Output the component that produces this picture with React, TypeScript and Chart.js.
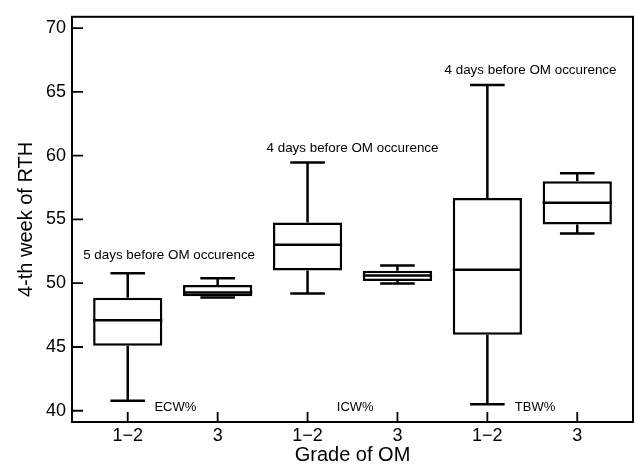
import React, { useEffect, useRef } from "react";
import { Chart, registerables } from "chart.js";

Chart.register(...registerables);

const categories = ["1−2", "3", "1−2", "3", "1−2", "3"];
const positions = [1, 2, 3, 4, 5, 6];
const mins = [40.78, 48.88, 49.19, 49.97, 40.52, 53.9];
const q1s = [45.1, 48.98, 51.0, 50.17, 45.95, 54.6];
const medians = [47.1, 49.27, 53.02, 50.61, 51.06, 56.31];
const q3s = [48.85, 49.86, 54.75, 50.98, 56.67, 57.99];
const maxs = [50.77, 50.38, 59.46, 51.39, 65.54, 58.61];

const noteTexts = [
  "5 days before OM occurence",
  "4 days before OM occurence",
  "4 days before OM occurence",
];
const noteX = [1.46, 3.5, 5.48];
const noteY = [52.17, 60.55, 66.7];

const groupLabels = ["ECW%", "ICW%", "TBW%"];
const groupX = [1.53, 3.53, 5.53];
const groupY = [40.3, 40.3, 40.3];

const yTicks = [40, 45, 50, 55, 60, 65, 70];

const FONT = "Arial, 'Liberation Sans', Helvetica, sans-serif";

const boxPlugin = {
  id: "boxExtras",
  afterDatasetsDraw(chart: any) {
    const { ctx, chartArea, scales } = chart;
    const x = scales.x;
    const y = scales.y;
    const meta = chart.getDatasetMeta(0);
    ctx.save();
    ctx.strokeStyle = "#000";
    ctx.lineWidth = 2.5;
    ctx.lineCap = "butt";
    meta.data.forEach((bar: any, i: number) => {
      const cx = x.getPixelForValue(positions[i]);
      const w = bar.width;
      const capHalf = w * 0.25;
      const pMin = y.getPixelForValue(mins[i]);
      const pQ1 = y.getPixelForValue(q1s[i]);
      const pMed = y.getPixelForValue(medians[i]);
      const pQ3 = y.getPixelForValue(q3s[i]);
      const pMax = y.getPixelForValue(maxs[i]);
      ctx.beginPath();
      ctx.moveTo(cx, pQ3);
      ctx.lineTo(cx, pMax);
      ctx.moveTo(cx - capHalf, pMax);
      ctx.lineTo(cx + capHalf, pMax);
      ctx.moveTo(cx, pQ1);
      ctx.lineTo(cx, pMin);
      ctx.moveTo(cx - capHalf, pMin);
      ctx.lineTo(cx + capHalf, pMin);
      ctx.moveTo(cx - w / 2, pMed);
      ctx.lineTo(cx + w / 2, pMed);
      ctx.stroke();
    });

    ctx.lineWidth = 2;
    ctx.strokeRect(
      chartArea.left,
      chartArea.top,
      chartArea.right - chartArea.left,
      chartArea.bottom - chartArea.top
    );
    ctx.lineWidth = 1.8;
    ctx.beginPath();
    yTicks.forEach((v) => {
      const py = y.getPixelForValue(v);
      ctx.moveTo(chartArea.left, py);
      ctx.lineTo(chartArea.left + 11, py);
    });
    positions.forEach((v) => {
      const px = x.getPixelForValue(v);
      ctx.moveTo(px, chartArea.bottom);
      ctx.lineTo(px, chartArea.bottom - 10);
    });
    ctx.stroke();

    ctx.fillStyle = "#000";
    ctx.textAlign = "center";
    ctx.textBaseline = "middle";
    ctx.font = `13.4px ${FONT}`;
    noteTexts.forEach((t, i) => {
      ctx.fillText(t, x.getPixelForValue(noteX[i]), y.getPixelForValue(noteY[i]));
    });
    ctx.font = `13px ${FONT}`;
    groupLabels.forEach((t, i) => {
      ctx.fillText(t, x.getPixelForValue(groupX[i]), y.getPixelForValue(groupY[i]));
    });
    ctx.restore();
  },
};

export default function App() {
  const canvasRef = useRef<HTMLCanvasElement | null>(null);

  useEffect(() => {
    if (!canvasRef.current) return;
    const chart = new Chart(canvasRef.current, {
      type: "bar",
      data: {
        datasets: [
          {
            data: positions.map((p, i) => ({ x: p, y: [q1s[i], q3s[i]] })) as any,
            backgroundColor: "#fff",
            borderColor: "#000",
            borderWidth: 2.5,
            borderSkipped: false,
            categoryPercentage: 1,
            barPercentage: 0.77,
          },
        ],
      },
      options: {
        responsive: false,
        animation: false,
        events: [],
        layout: { padding: { top: 13, right: 2, left: 0, bottom: 0 } },
        plugins: {
          legend: { display: false },
          tooltip: { enabled: false },
          title: { display: false },
        },
        scales: {
          x: {
            type: "linear",
            offset: false,
            min: 0.38,
            max: 6.62,
            grid: { display: false, drawTicks: false, offset: false },
            border: { display: false },
            afterBuildTicks: (scale: any) => {
              scale.ticks = positions.map((v) => ({ value: v }));
            },
            afterFit: (scale: any) => {
              scale.height = 43;
            },
            ticks: {
              padding: 3,
              color: "#000",
              font: { family: FONT, size: 18 },
              maxRotation: 0,
              autoSkip: false,
              callback: (v: any) => {
                const idx = positions.indexOf(Number(v));
                return idx >= 0 ? categories[idx] : "";
              },
            },
            title: {
              display: true,
              text: "Grade of OM",
              color: "#000",
              font: { family: FONT, size: 20, lineHeight: 1 },
              padding: { top: 0, bottom: 0 },
            },
          },
          y: {
            type: "linear",
            min: 39.12,
            max: 70.88,
            grid: { display: false, drawTicks: false },
            border: { display: false },
            afterBuildTicks: (scale: any) => {
              scale.ticks = yTicks.map((v) => ({ value: v }));
            },
            afterFit: (scale: any) => {
              scale.width = 72;
            },
            ticks: {
              padding: 6,
              color: "#000",
              font: { family: FONT, size: 18 },
            },
            title: {
              display: true,
              text: "4-th week of RTH",
              color: "#000",
              font: { family: FONT, size: 20, lineHeight: 1 },
              padding: { top: 16, bottom: 0 },
            },
          },
        },
      },
      plugins: [boxPlugin],
    });
    return () => chart.destroy();
  }, []);

  return (
    <div
      style={{
        position: "fixed",
        left: 0,
        top: 0,
        width: 635,
        height: 465,
        background: "#fff",
      }}
    >
      <canvas ref={canvasRef} width={635} height={465} />
    </div>
  );
}
